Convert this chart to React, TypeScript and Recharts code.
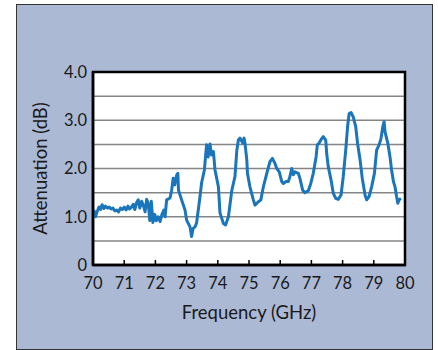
import { CartesianGrid, Line, LineChart, ReferenceArea, XAxis, YAxis } from 'recharts'

// frequency (GHz)
const freqs = [
  70.0, 70.04, 70.08, 70.13, 70.19, 70.24, 70.29, 70.35, 70.4, 70.46, 70.52, 70.58, 70.64, 70.7,
  70.76, 70.82, 70.88, 70.94, 71.0, 71.06, 71.12, 71.17, 71.23, 71.29, 71.34, 71.4, 71.45, 71.5,
  71.56, 71.62, 71.67, 71.72, 71.77, 71.82, 71.87, 71.92, 71.98, 72.03, 72.09, 72.15, 72.21, 72.27,
  72.31, 72.36, 72.47, 72.52, 72.57, 72.62, 72.68, 72.72, 72.74, 72.84, 72.95, 73.0, 73.11, 73.16,
  73.21, 73.27, 73.32, 73.43, 73.48, 73.57, 73.64, 73.69, 73.75, 73.8, 73.86, 73.91, 74.02, 74.07,
  74.18, 74.25, 74.34, 74.45, 74.55, 74.61, 74.66, 74.71, 74.8, 74.84, 74.87, 74.93, 74.95, 75.03,
  75.14, 75.19, 75.3, 75.38, 75.46, 75.57, 75.67, 75.75, 75.83, 75.89, 75.97, 76.05, 76.1, 76.19,
  76.26, 76.31, 76.37, 76.42, 76.47, 76.58, 76.63, 76.72, 76.79, 76.9, 76.98, 77.06, 77.15, 77.19,
  77.24, 77.33, 77.38, 77.46, 77.49, 77.54, 77.63, 77.7, 77.78, 77.86, 77.95, 78.02, 78.1, 78.16,
  78.21, 78.27, 78.34, 78.42, 78.48, 78.56, 78.63, 78.72, 78.77, 78.85, 78.93, 79.02, 79.09, 79.17,
  79.23, 79.29, 79.33, 79.36, 79.45, 79.52, 79.57, 79.63, 79.68, 79.73, 79.77, 79.81, 79.87
]

// attenuation (dB)
const atten = [
  1.05, 1.12, 1.0, 1.1, 1.2, 1.15, 1.25, 1.17, 1.22, 1.18, 1.2, 1.16, 1.18, 1.12,
  1.14, 1.1, 1.18, 1.15, 1.2, 1.14, 1.22, 1.16, 1.2, 1.26, 1.15, 1.3, 1.35, 1.18,
  1.32, 1.22, 1.1, 1.36, 1.28, 0.92, 1.32, 0.88, 1.05, 0.92, 1.0, 0.9, 1.05, 1.14,
  1.0, 1.35, 1.39, 1.55, 1.8, 1.66, 1.86, 1.9, 1.55, 1.35, 1.14, 0.93, 0.79, 0.59,
  0.76, 0.79, 0.87, 1.42, 1.7, 1.97, 2.49, 2.24, 2.51, 2.28, 2.35, 1.97, 1.62, 1.08,
  0.86, 0.83, 1.0, 1.55, 1.83, 2.38, 2.59, 2.63, 2.53, 2.63, 2.53, 2.18, 1.9, 1.62,
  1.35, 1.24, 1.31, 1.35, 1.62, 1.9, 2.14, 2.21, 2.11, 2.0, 1.93, 1.73, 1.69, 1.73,
  1.73, 1.83, 2.0, 1.87, 1.93, 1.9, 1.8, 1.55, 1.5, 1.54, 1.69, 1.9, 2.24, 2.49,
  2.52, 2.62, 2.66, 2.59, 2.31, 2.04, 1.76, 1.49, 1.38, 1.36, 1.45, 1.83, 2.38, 2.87,
  3.14, 3.16, 3.07, 2.87, 2.52, 2.18, 1.8, 1.45, 1.35, 1.42, 1.62, 1.9, 2.38, 2.49,
  2.62, 2.87, 2.97, 2.76, 2.52, 2.24, 1.97, 1.73, 1.62, 1.42, 1.28, 1.35, 1.38
]

const xTicks = [70, 71, 72, 73, 74, 75, 76, 77, 78, 79, 80]
const yTicks = [0, 0.5, 1, 1.5, 2, 2.5, 3, 3.5, 4]

const data = freqs.map((f, i) => ({ f, a: atten[i] }))

const font = 'Lato, "Open Sans", sans-serif'

export default function App() {
  return (
    <div style={{ position: 'absolute', left: 0, top: 0, width: 438, height: 350, background: '#fff' }}>
      <div
        style={{
          position: 'absolute',
          left: 16,
          top: 4,
          width: 415,
          height: 344,
          background: '#abb9d5',
          border: '1px solid #333'
        }}
      />
      <div style={{ position: 'absolute', left: 0, top: 0 }}>
        <LineChart
          width={438}
          height={350}
          data={data}
          margin={{ top: 72, right: 33, bottom: 29, left: 0 }}
          style={{ fontFamily: font }}
        >
          <CartesianGrid vertical={false} fill="#fff" stroke="#858585" strokeWidth={1.5} />
          <XAxis
            dataKey="f"
            type="number"
            domain={[70, 80]}
            ticks={xTicks}
            interval={0}
            height={56}
            axisLine={{ stroke: '#000', strokeWidth: 2.5 }}
            tickLine={{ stroke: '#000', strokeWidth: 1.5 }}
            tickSize={-5}
            tickMargin={17}
            tick={{ fill: '#1a1a1a', fontSize: 16.5 }}
            label={{ value: 'Frequency (GHz)', position: 'center', dy: 19, fill: '#1a1a1a', fontSize: 18.5 }}
          />
          <YAxis
            type="number"
            domain={[0, 4]}
            ticks={yTicks}
            interval={0}
            width={93}
            axisLine={{ stroke: '#000', strokeWidth: 2.5 }}
            tickLine={false}
            tickSize={0}
            tickMargin={6}
            tick={{ fill: '#1a1a1a', fontSize: 16.5 }}
            tickFormatter={(v: number) => (v % 1 !== 0 ? '' : v === 0 ? '0' : v.toFixed(1))}
            label={{ value: 'Attenuation (dB)', angle: -90, position: 'center', dx: -6, fill: '#1a1a1a', fontSize: 18.5 }}
          />
          <ReferenceArea x1={70} x2={80} y1={0} y2={4} fill="none" stroke="#000" strokeWidth={2.5} />
          <Line
            dataKey="a"
            type="linear"
            stroke="#1a75bb"
            strokeWidth={3}
            strokeLinejoin="round"
            dot={false}
            isAnimationActive={false}
          />
        </LineChart>
      </div>
    </div>
  )
}
